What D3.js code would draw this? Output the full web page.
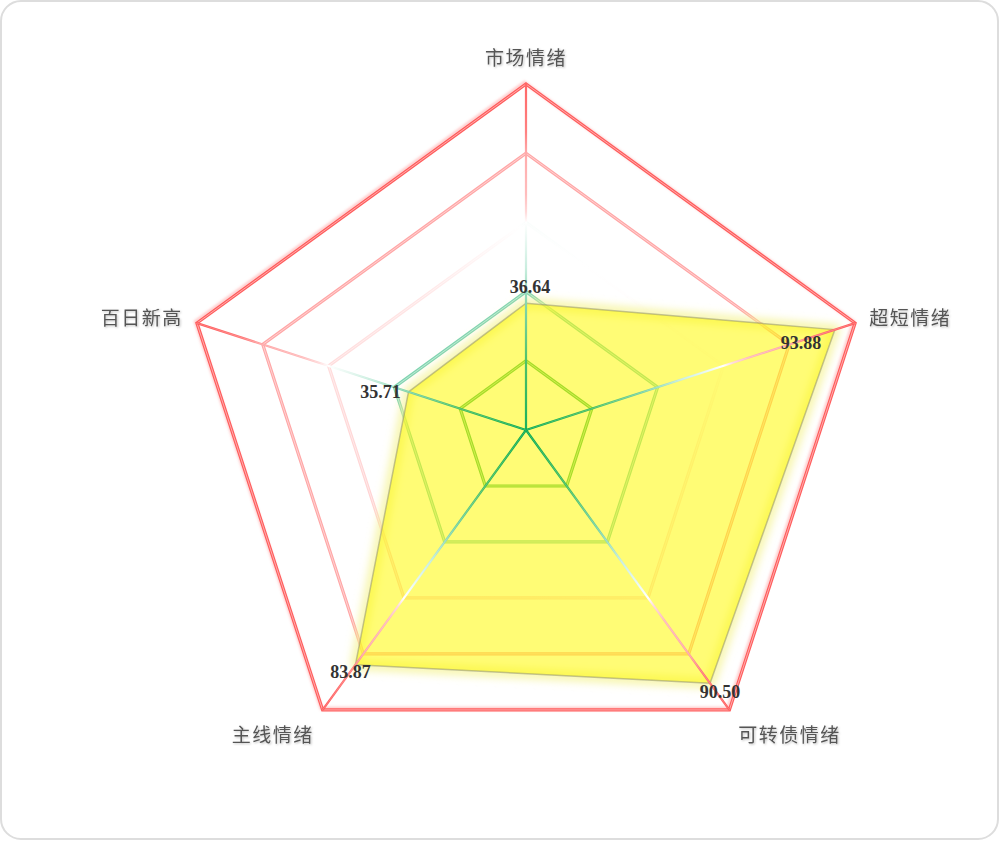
<!DOCTYPE html>
<html>
<head>
<meta charset="utf-8">
<script src="https://cdn.jsdelivr.net/npm/d3@7/dist/d3.min.js"></script>
<style>
html,body{margin:0;padding:0;background:#fff;}
svg{display:block;}
</style>
</head>
<body>
<svg id="chart" width="1000" height="841"></svg>
<script>
// ---- data ----
const indicators = ["市场情绪", "超短情绪", "可转债情绪", "主线情绪", "百日新高"];
const values = [36.64, 93.88, 90.50, 83.87, 35.71];
const maxValue = 100;
const levels = [20, 40, 60, 80, 100];
// label offsets (px) relative to each data point
const labelDx = [4, -34, 10, -5, -28];
const labelDy = [-17, 13, 8, 7, 0];

// ---- layout ----
const W = 1000, H = 841;
const cx = 526, cy = 430, R = 346;
const svg = d3.select("#chart");

const defs = svg.append("defs");
const grad = defs.append("radialGradient").attr("id", "axisGrad")
  .attr("gradientUnits", "userSpaceOnUse")
  .attr("cx", 0).attr("cy", 0).attr("r", R).attr("fx", 0).attr("fy", 0);
[[0, "#00a84a"], [0.2, "#3dbb58"], [0.35, "#6fcf9e"], [0.47, "#c4ecdc"], [0.6, "#ffffff"],
 [0.63, "#ffd6d6"], [0.68, "#ffb6b6"], [0.8, "#ffa2a2"], [0.86, "#ff7474"], [1, "#ff5656"]]
  .forEach(([o, c]) => grad.append("stop").attr("offset", o).attr("stop-color", c));

// level-3 ring: white at top, teal tint upper right, faint pink lower
const g3 = defs.append("linearGradient").attr("id", "lvl3Grad")
  .attr("x1", 0.8).attr("y1", 0).attr("x2", 0.2).attr("y2", 1);
[[0, "#d8f2e8"], [0.15, "#ffffff"], [0.4, "#ffe6e6"], [1, "#ffcccc"]]
  .forEach(([o, c]) => g3.append("stop").attr("offset", o).attr("stop-color", c));

const levelStroke = ["#3dba58", "#7dd3b2", "url(#lvl3Grad)", "#ffa6a6", "#ff5c5c"];

const glow = defs.append("filter").attr("id", "glow")
  .attr("x", "-20%").attr("y", "-20%").attr("width", "140%").attr("height", "140%");
glow.append("feGaussianBlur").attr("stdDeviation", 5);

const gridShadow = defs.append("filter").attr("id", "gridShadow")
  .attr("x", "-10%").attr("y", "-10%").attr("width", "120%").attr("height", "120%");
gridShadow.append("feDropShadow").attr("dx", -1.5).attr("dy", -1.5)
  .attr("stdDeviation", 1).attr("flood-color", "#ff6666").attr("flood-opacity", 0.35);

const textShadow = defs.append("filter").attr("id", "textShadow")
  .attr("x", "-10%").attr("y", "-30%").attr("width", "120%").attr("height", "160%");
textShadow.append("feDropShadow").attr("dx", 1).attr("dy", 1)
  .attr("stdDeviation", 1).attr("flood-color", "#000").attr("flood-opacity", 0.25);

// frame
svg.append("rect").attr("x", 1).attr("y", 1).attr("width", W - 3).attr("height", H - 3)
  .attr("rx", 20).attr("ry", 20).attr("fill", "#fff")
  .attr("stroke", "#dddddd").attr("stroke-width", 2);

// scales
const n = indicators.length;
const angle = d3.scaleLinear().domain([0, n]).range([0, 2 * Math.PI]);
const rScale = d3.scaleLinear().domain([0, maxValue]).range([0, R]);
const lx = (i, v) => rScale(v) * Math.sin(angle(i));
const ly = (i, v) => -rScale(v) * Math.cos(angle(i));

const lineRadial = d3.lineRadial().angle((d, i) => angle(i)).radius(d => rScale(d)).curve(d3.curveLinearClosed);

const root = svg.append("g").attr("transform", `translate(${cx},${cy})`);

// grid polygons (double line look)
const gridG = root.append("g");
levels.forEach((lv, k) => {
  const pts = indicators.map(() => lv);
  gridG.append("path").attr("d", lineRadial(pts)).attr("fill", "none")
    .attr("stroke", levelStroke[k]).attr("stroke-width", 3.2)
    .attr("filter", lv === maxValue ? "url(#gridShadow)" : null);
  gridG.append("path").attr("d", lineRadial(pts)).attr("fill", "none")
    .attr("stroke", "#fff").attr("stroke-opacity", 0.55).attr("stroke-width", 0.9);
});

// data area
const areaG = root.append("g");
areaG.append("path").attr("d", lineRadial(values))
  .attr("fill", "none").attr("stroke", "#f4f28a").attr("stroke-width", 8)
  .attr("stroke-opacity", 0.9).attr("filter", "url(#glow)");
areaG.append("path").attr("d", lineRadial(values))
  .attr("fill", "#fffa00").attr("fill-opacity", 0.54)
  .attr("stroke", "#8a8a70").attr("stroke-opacity", 0.5).attr("stroke-width", 1.5)
  .attr("stroke-linejoin", "round");

// axis lines (over the area)
const axG = root.append("g");
indicators.forEach((name, i) => {
  axG.append("line").attr("x1", 0).attr("y1", 0)
    .attr("x2", lx(i, maxValue)).attr("y2", ly(i, maxValue))
    .attr("stroke", "url(#axisGrad)").attr("stroke-width", 2.2);
  axG.append("line").attr("x1", 0).attr("y1", 0)
    .attr("x2", lx(i, maxValue)).attr("y2", ly(i, maxValue))
    .attr("stroke", "#fff").attr("stroke-opacity", 0.35).attr("stroke-width", 0.6);
});

// indicator names
const nameGap = 15;
const nameG = root.append("g");
indicators.forEach((name, i) => {
  const a = angle(i);
  const sx = Math.sin(a), cyv = -Math.cos(a);
  const x = (R + nameGap) * sx, y = (R + nameGap) * cyv;
  const anchor = Math.abs(sx) < 0.01 ? "middle" : (sx > 0 ? "start" : "end");
  let dy = "0.35em";
  if (cyv < -0.5) dy = "-0.2em";
  else if (cyv > 0.5) dy = "1.05em";
  nameG.append("text").attr("x", x).attr("y", y).attr("dy", dy)
    .attr("text-anchor", anchor)
    .attr("font-family", "'Noto Sans CJK SC','Noto Sans',sans-serif")
    .attr("font-size", 19).attr("letter-spacing", 1.5)
    .attr("fill", "#555").attr("filter", "url(#textShadow)")
    .text(name);
});

// value labels
const labG = root.append("g");
values.forEach((v, i) => {
  labG.append("text")
    .attr("x", lx(i, v) + labelDx[i]).attr("y", ly(i, v) + labelDy[i])
    .attr("dy", "0.35em").attr("text-anchor", "middle")
    .attr("font-family", "'Liberation Serif','DejaVu Serif',serif")
    .attr("font-weight", "bold").attr("font-size", 18)
    .attr("fill", "#333")
    .text(d3.format(".2f")(v));
});
</script>
</body>
</html>
